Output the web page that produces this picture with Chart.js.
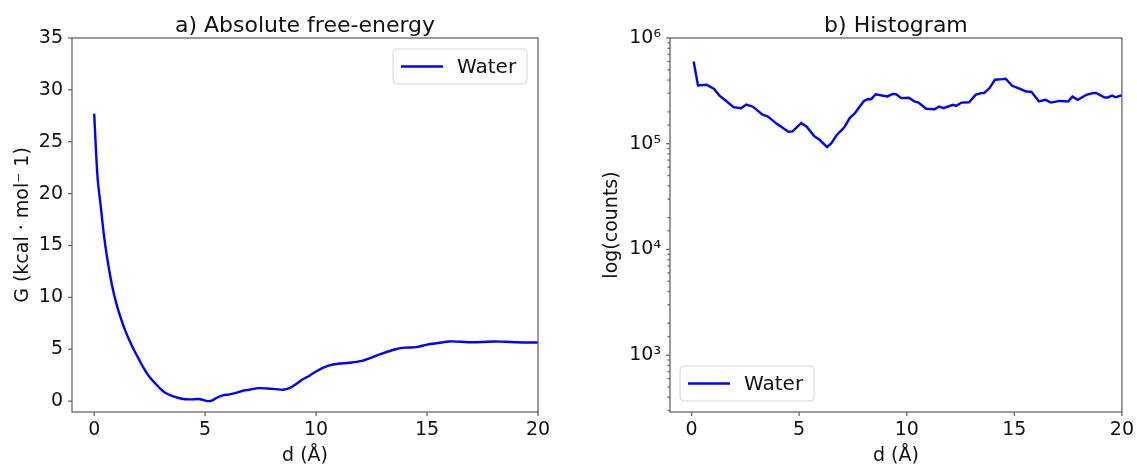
<!DOCTYPE html>
<html>
<head>
<meta charset="UTF-8">
<title>Free-energy / Histogram</title>
<script src="https://cdn.jsdelivr.net/npm/chart.js"></script>
<style>
  body { margin: 0; background: #fff; width: 1137px; height: 464px; overflow: hidden; position: relative; }
  canvas { position: absolute; top: 0; }
  #energia { left: 0; }
  #histograma { left: 600px; }
</style>
</head>
<body>
<canvas id="energia" width="560" height="464"></canvas>
<canvas id="histograma" width="537" height="464"></canvas>

<script>
// a) perfil de energia livre, d em Å e G em kcal/mol
const distG = [0.0, 0.15, 0.3, 0.45, 0.6, 0.8, 1.0, 1.2, 1.4, 1.6, 1.8, 2.0, 2.2, 2.4, 2.6, 2.8, 3.0, 3.2, 3.5, 3.8,
               4.1, 4.4, 4.7, 4.9, 5.1, 5.3, 5.5, 5.8, 6.1, 6.4, 6.7, 7.0, 7.4, 7.8, 8.2, 8.5, 8.8, 9.1, 9.4, 9.7,
               10.0, 10.3, 10.6, 11.0, 11.5, 12.0, 12.5, 13.0, 13.5, 14.0, 14.5, 15.0, 15.5, 16.0, 16.5, 17.0,
               17.5, 18.0, 18.5, 19.0, 19.5, 20.0];
const energiaG = [27.7, 21.6, 18.7, 15.8, 13.6, 11.2, 9.4, 8.0, 6.8, 5.8, 4.9, 4.1, 3.3, 2.6, 2.05, 1.6, 1.15, 0.8, 0.5, 0.3,
                  0.18, 0.17, 0.2, 0.12, 0.0, 0.05, 0.3, 0.55, 0.65, 0.8, 1.0, 1.1, 1.25, 1.22, 1.15, 1.1, 1.25, 1.65, 2.1, 2.45,
                  2.85, 3.2, 3.45, 3.6, 3.7, 3.85, 4.2, 4.6, 4.95, 5.15, 5.2, 5.45, 5.6, 5.75, 5.72, 5.68,
                  5.7, 5.75, 5.72, 5.68, 5.65, 5.65];

// b) histograma das distâncias
const distH = [0.1, 0.3, 0.7, 1.05, 1.3, 1.6, 1.95, 2.3, 2.55, 2.85, 3.3, 3.55, 3.95, 4.2, 4.5, 4.7, 5.1, 5.35, 5.7, 5.95,
               6.3, 6.5, 6.75, 7.1, 7.35, 7.6, 8.0, 8.2, 8.35, 8.55, 9.1, 9.35, 9.5, 9.75, 10.1, 10.35, 10.55, 10.9, 11.3, 11.5,
               11.7, 12.15, 12.3, 12.55, 12.9, 13.2, 13.45, 13.6, 13.85, 14.1, 14.45, 14.6, 14.9, 15.3, 15.55, 15.8, 16.15, 16.45, 16.7, 17.1,
               17.5, 17.7, 17.95, 18.35, 18.65, 18.8, 19.2, 19.35, 19.55, 19.7, 20.0];
const contagens = [600000, 355000, 361000, 330000, 285000, 255000, 222000, 217000, 235000, 224000, 188000, 181000, 155000, 143000, 130000, 131000, 157000, 145000, 118000, 109000,
                   93000, 101000, 121000, 143000, 175000, 195000, 252000, 265000, 264000, 294000, 280000, 296000, 294000, 270000, 272000, 252000, 245000, 214000, 212000, 225000,
                   217000, 233000, 228000, 245000, 247000, 290000, 301000, 302000, 336000, 403000, 408000, 412000, 353000, 329000, 312000, 309000, 251000, 260000, 245000, 254000,
                   251000, 279000, 260000, 290000, 301000, 302000, 274000, 274000, 286000, 275000, 288000];

const serie = 'Water';
const azul = '#0000ff';
const fonte = 'DejaVu Sans';
const sup = { '0': '⁰', '1': '¹', '2': '²', '3': '³', '4': '⁴', '5': '⁵', '6': '⁶', '7': '⁷', '8': '⁸', '9': '⁹' };

Chart.defaults.font.family = fonte;
Chart.defaults.font.size = 19;
Chart.defaults.color = '#111';

// moldura, marcas dos eixos e legenda dentro da área do gráfico
const eixos = {
    id: 'eixos',
    afterDraw(chart, args, opts) {
        const { ctx, chartArea: a } = chart;
        const sx = chart.scales.x, sy = chart.scales.y;
        ctx.save();
        ctx.strokeStyle = '#666';
        ctx.lineWidth = 1.3;
        ctx.strokeRect(a.left, a.top, a.right - a.left, a.bottom - a.top);

        sx.ticks.forEach(t => {
            const px = sx.getPixelForValue(t.value);
            if (px < a.left - 0.5 || px > a.right + 0.5) return;
            ctx.beginPath(); ctx.moveTo(px, a.bottom); ctx.lineTo(px, a.bottom + 4); ctx.stroke();
        });
        sy.ticks.forEach(t => {
            const py = sy.getPixelForValue(t.value);
            if (py < a.top - 0.5 || py > a.bottom - 1) return;
            let len = 4;
            if (sy.type === 'logarithmic') {
                const e = Math.log10(t.value);
                if (Math.abs(e - Math.round(e)) > 1e-6) len = 2.5;
            }
            ctx.beginPath(); ctx.moveTo(a.left, py); ctx.lineTo(a.left - len, py); ctx.stroke();
        });

        // legenda
        const ds = chart.data.datasets[0];
        const w = 134, h = 35;
        const lx = opts.canto === 'topo' ? a.right - 11 - w : a.left + 10;
        const ly = opts.canto === 'topo' ? a.top + 11 : a.bottom - 11 - h;
        ctx.fillStyle = 'rgba(255,255,255,0.8)';
        ctx.strokeStyle = '#d4d4d4';
        ctx.lineWidth = 1;
        ctx.beginPath(); ctx.roundRect(lx, ly, w, h, 4); ctx.fill(); ctx.stroke();
        ctx.strokeStyle = ds.borderColor;
        ctx.lineWidth = ds.borderWidth;
        ctx.beginPath(); ctx.moveTo(lx + 8, ly + h / 2); ctx.lineTo(lx + 50, ly + h / 2); ctx.stroke();
        ctx.fillStyle = '#111';
        ctx.font = '20px "' + fonte + '"';
        ctx.textBaseline = 'middle';
        ctx.fillText(ds.label, lx + 64, ly + h / 2 + 1);
        ctx.restore();
    }
};

function eixoX(min) {
    return {
        type: 'linear', min: min, max: 20,
        ticks: { stepSize: 5, includeBounds: false, padding: 3, font: { size: 19 } },
        grid: { display: true, drawOnChartArea: false, drawTicks: true, tickLength: 4, color: 'rgba(0,0,0,0)' },
        border: { display: false },
        title: { display: true, text: 'd (Å)', font: { size: 19 }, padding: { top: 0, bottom: -3 } },
        afterFit: s => { s.height = 52; }
    };
}

new Chart(document.getElementById('energia'), {
    type: 'line',
    data: {
        datasets: [{
            label: serie,
            data: distG.map((d, i) => ({ x: d, y: energiaG[i] })),
            borderColor: azul, borderWidth: 2.4, pointRadius: 0, tension: 0.3, fill: false
        }]
    },
    options: {
        responsive: false, animation: false, devicePixelRatio: 1,
        layout: { padding: { top: 0, right: 22, bottom: 0, left: 0 } },
        scales: {
            x: eixoX(-1),
            y: {
                type: 'linear', min: -1.05, max: 35,
                ticks: { stepSize: 5, includeBounds: false, padding: 5, font: { size: 19 } },
                grid: { display: true, drawOnChartArea: false, drawTicks: true, tickLength: 4, color: 'rgba(0,0,0,0)' },
                border: { display: false },
                title: { display: true, text: 'G (kcal · mol⁻ 1)', font: { size: 19 }, padding: { top: 12, bottom: 0 } },
                afterFit: s => { s.width = 72; }
            }
        },
        plugins: {
            legend: { display: false },
            tooltip: { enabled: false },
            title: { display: true, text: 'a) Absolute free-energy', fullSize: false, color: '#111',
                     font: { size: 22, weight: 'normal', lineHeight: 1 }, padding: { top: 15, bottom: 1 } },
            eixos: { canto: 'topo' }
        }
    },
    plugins: [eixos]
});

new Chart(document.getElementById('histograma'), {
    type: 'line',
    data: {
        datasets: [{
            label: serie,
            data: distH.map((d, i) => ({ x: d, y: contagens[i] })),
            borderColor: azul, borderWidth: 2.4, pointRadius: 0, tension: 0, fill: false
        }]
    },
    options: {
        responsive: false, animation: false, devicePixelRatio: 1,
        layout: { padding: { top: 0, right: 14, bottom: 0, left: 0 } },
        scales: {
            x: eixoX(-1),
            y: {
                type: 'logarithmic', min: 290, max: 1000000,
                ticks: {
                    autoSkip: false, padding: 5, font: { size: 19 },
                    callback: v => {
                        const e = Math.log10(v);
                        if (Math.abs(e - Math.round(e)) > 1e-6) return '';
                        return '10' + String(Math.round(e)).split('').map(c => sup[c]).join('');
                    }
                },
                grid: { display: true, drawOnChartArea: false, drawTicks: true, tickLength: 4, color: 'rgba(0,0,0,0)' },
                border: { display: false },
                title: { display: true, text: 'log(counts)', font: { size: 19 }, padding: { top: 1, bottom: 0 } },
                afterFit: s => { s.width = 70; }
            }
        },
        plugins: {
            legend: { display: false },
            tooltip: { enabled: false },
            title: { display: true, text: 'b) Histogram', fullSize: false, color: '#111',
                     font: { size: 22, weight: 'normal', lineHeight: 1 }, padding: { top: 15, bottom: 1 } },
            eixos: { canto: 'base' }
        }
    },
    plugins: [eixos]
});
</script>
</body>
</html>
